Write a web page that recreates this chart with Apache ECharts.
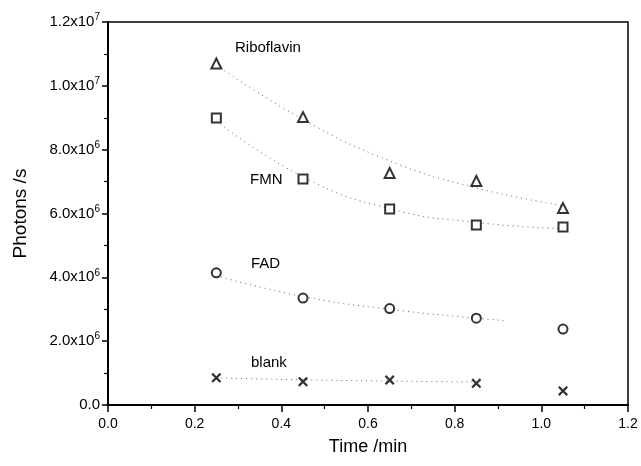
<!DOCTYPE html>
<html>
<head>
<meta charset="utf-8">
<script src="https://cdn.jsdelivr.net/npm/echarts@6/dist/echarts.min.js"></script>
<style>html,body{margin:0;padding:0;background:#fff}#c{width:641px;height:466px}</style>
</head>
<body>
<div id="c"></div>
<script>
// Data
var timeX = [0.25, 0.45, 0.65, 0.85, 1.05];
var riboflavin = [10.7e6, 9.02e6, 7.27e6, 7.02e6, 6.17e6];
var fmn = [8.99e6, 7.08e6, 6.14e6, 5.64e6, 5.58e6];
var fad = [4.14e6, 3.35e6, 3.02e6, 2.72e6, 2.38e6];
var blank = [0.85e6, 0.73e6, 0.78e6, 0.68e6, 0.44e6];

// Fitted (dotted) curves
var ribFitX = [0.25, 0.45, 0.65, 0.85, 1.05];
var ribFit = [10.65e6, 8.95e6, 7.65e6, 6.8e6, 6.25e6];
var fmnFitX = [0.25, 0.45, 0.65, 0.85, 1.05];
var fmnFit = [8.9e6, 7.15e6, 6.15e6, 5.72e6, 5.52e6];
var fadFitX = [0.25, 0.45, 0.65, 0.85, 0.92];
var fadFit = [4.05e6, 3.4e6, 3.0e6, 2.72e6, 2.64e6];
var blankFitX = [0.25, 0.45, 0.65, 0.85];
var blankFit = [0.85e6, 0.79e6, 0.75e6, 0.72e6];

var xTicks = ['0.0', '0.2', '0.4', '0.6', '0.8', '1.0', '1.2'];
var seriesLabels = ['Riboflavin', 'FMN', 'FAD', 'blank'];

function pairs(xs, ys) { return xs.map(function (x, i) { return [x, ys[i]]; }); }

var FONT = 'Liberation Sans, Arial, sans-serif';
var xMark = 'path://M0,1.6L1.6,0L5,3.4L8.4,0L10,1.6L6.6,5L10,8.4L8.4,10L5,6.6L1.6,10L0,8.4L3.4,5Z';

function fitSeries(xs, ys) {
  return {
    type: 'line', data: pairs(xs, ys), smooth: true, showSymbol: false, symbol: 'none',
    lineStyle: { color: '#666', width: 1, type: [1, 4] }, silent: true, z: 1
  };
}
function markSeries(ys, sym, size, filled) {
  return {
    type: 'scatter', data: pairs(timeX, ys), symbol: sym, symbolSize: size,
    itemStyle: filled ? { color: '#000' } : { color: '#fff', borderColor: '#000', borderWidth: 2 },
    z: 3
  };
}

var chart = echarts.init(document.getElementById('c'));
chart.setOption({
  animation: false,
  backgroundColor: '#fff',
  grid: { left: 108, right: 13, top: 22, bottom: 61, show: true, borderColor: '#000', borderWidth: 1.5, backgroundColor: 'transparent' },
  xAxis: {
    type: 'value', min: 0, max: 1.2, interval: 0.2,
    name: 'Time /min', nameLocation: 'middle', nameGap: 33,
    nameTextStyle: { fontFamily: FONT, fontSize: 18, color: '#000' },
    axisLine: { lineStyle: { color: '#000', width: 2 } },
    axisTick: { inside: false, length: 7, lineStyle: { color: '#000', width: 1.5 } },
    minorTick: { show: true, splitNumber: 2, length: 4, lineStyle: { color: '#000', width: 1.2 } },
    splitLine: { show: false },
    axisLabel: { fontFamily: FONT, fontSize: 14, color: '#000', margin: 12,
      formatter: function (v) { return xTicks[Math.round(v / 0.2)]; } }
  },
  yAxis: {
    type: 'value', min: 0, max: 1.2e7, interval: 2e6,
    name: 'Photons /s', nameLocation: 'middle', nameGap: 78, nameRotate: 90,
    nameTextStyle: { fontFamily: FONT, fontSize: 19, color: '#000' },
    axisLine: { lineStyle: { color: '#000', width: 2 } },
    axisTick: { inside: false, length: 6, lineStyle: { color: '#000', width: 1.5 } },
    minorTick: { show: true, splitNumber: 2, length: 4, lineStyle: { color: '#000', width: 1.2 } },
    splitLine: { show: false },
    axisLabel: {
      fontFamily: FONT, fontSize: 15, color: '#000', margin: 8,
      formatter: function (v) {
        if (v === 0) return '{b|0.0}';
        var e = Math.floor(Math.log10(v) + 1e-9);
        var m = v / Math.pow(10, e);
        return '{b|' + m.toFixed(1) + 'x10}{s|' + e + '}';
      },
      rich: {
        b: { fontFamily: FONT, fontSize: 15, color: '#000' },
        s: { fontFamily: FONT, fontSize: 10, color: '#000', padding: [0, 0, 9, 0] }
      }
    }
  },
  series: [
    fitSeries(ribFitX, ribFit),
    fitSeries(fmnFitX, fmnFit),
    fitSeries(fadFitX, fadFit),
    fitSeries(blankFitX, blankFit),
    markSeries(riboflavin, 'triangle', 10, false),
    markSeries(fmn, 'rect', 9, false),
    markSeries(fad, 'circle', 9, false),
    markSeries(blank, xMark, 10, true)
  ],
  graphic: [
    { type: 'text', left: 235, top: 40, style: { text: seriesLabels[0], font: '15px ' + FONT, fill: '#000' } },
    { type: 'text', left: 250, top: 172, style: { text: seriesLabels[1], font: '15px ' + FONT, fill: '#000' } },
    { type: 'text', left: 251, top: 256, style: { text: seriesLabels[2], font: '15px ' + FONT, fill: '#000' } },
    { type: 'text', left: 251, top: 355, style: { text: seriesLabels[3], font: '15px ' + FONT, fill: '#000' } }
  ]
});
</script>
</body>
</html>
